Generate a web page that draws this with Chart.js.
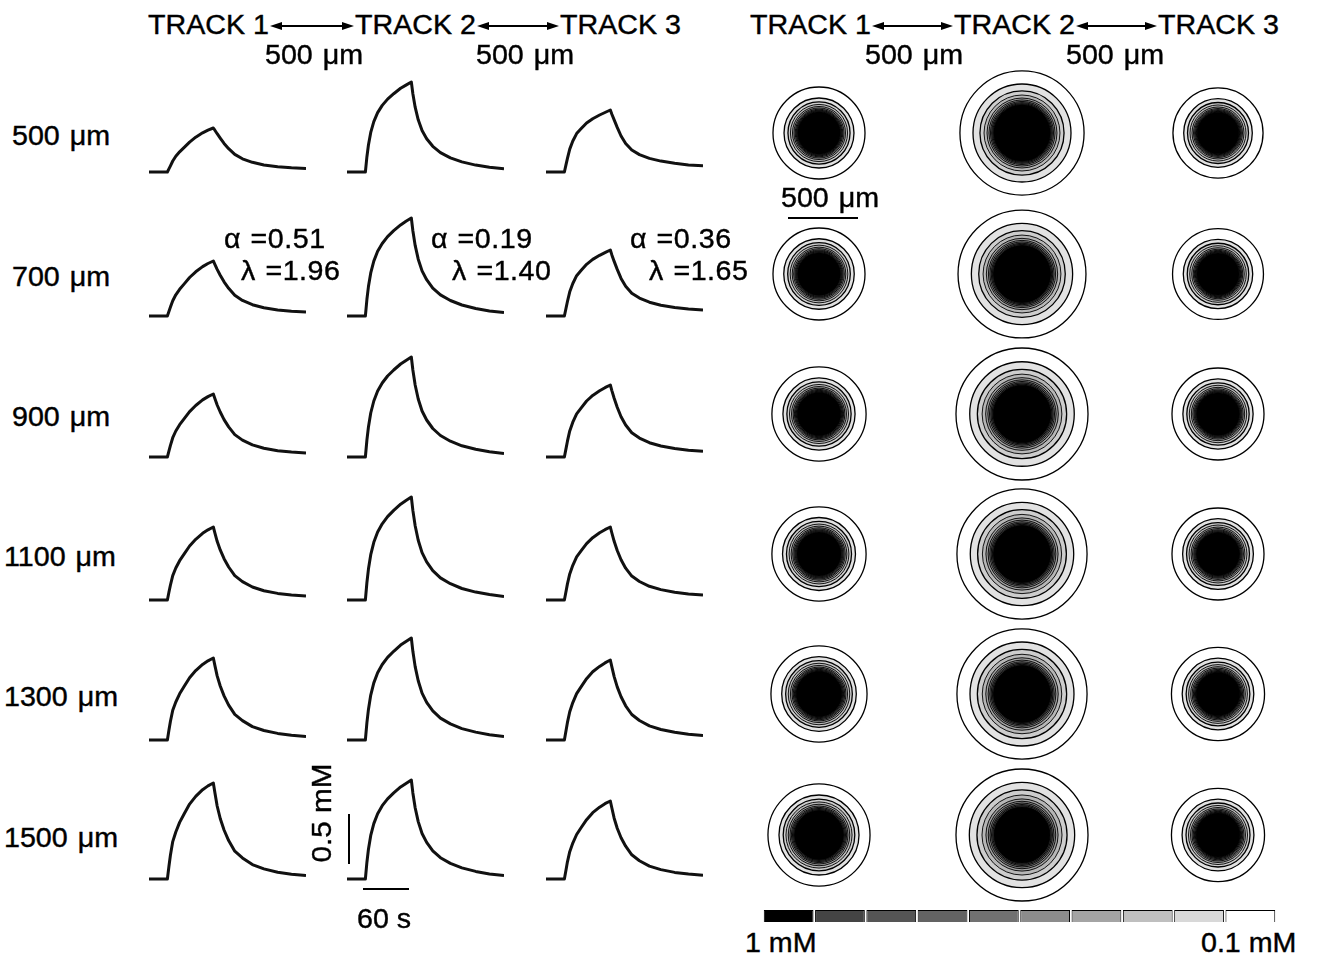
<!DOCTYPE html>
<html>
<head>
<meta charset="utf-8">
<script src="https://cdn.jsdelivr.net/npm/chart.js@4.4.1/dist/chart.umd.min.js"></script>
<style>
  html, body { margin: 0; padding: 0; background: #fff; }
  #fig { position: relative; width: 1317px; height: 958px; overflow: hidden;
         font-family: "Liberation Sans", Arial, sans-serif; color: #000; }
  .txt { position: absolute; font-size: 27px; line-height: 27px; white-space: nowrap;
         -webkit-text-stroke: 0.4px #000;
         transform-origin: 0 50%; transform: translateY(-50%) scaleX(1.06); }
  .um { word-spacing: 2px; }
  .fit { word-spacing: 1px; letter-spacing: 0.5px; }
  .rot { position: absolute; font-size: 27px; line-height: 27px; white-space: nowrap;
         -webkit-text-stroke: 0.4px #000;
         transform: translate(-50%, -50%) rotate(-90deg) scaleX(1.1); }
  .bar { position: absolute; background: #000; }
  canvas, svg { position: absolute; }
</style>
</head>
<body>
<div id="fig"></div>
<script>
// ---- data ----
const TIME = [0, 24, 26, 28, 31, 35, 40, 46, 53, 61, 70, 77, 84, 86, 89, 93, 98, 104, 112, 122, 135, 150, 168, 186, 205]; // s
const DEPTHS = ['500 μm', '700 μm', '900 μm', '1100 μm', '1300 μm', '1500 μm'];
const TRACKS = ['TRACK 1', 'TRACK 2', 'TRACK 3'];

// concentration traces (mM), one row per depth
const TRACK1_MM = [
  [0, 0, 0.031, 0.062, 0.11, 0.158, 0.202, 0.246, 0.299, 0.348, 0.392, 0.418, 0.44, 0.418, 0.383, 0.339, 0.286, 0.233, 0.176, 0.132, 0.097, 0.070, 0.053, 0.042, 0.035],
  [0, 0, 0.045, 0.089, 0.153, 0.212, 0.267, 0.321, 0.385, 0.442, 0.494, 0.525, 0.55, 0.517, 0.466, 0.408, 0.342, 0.277, 0.208, 0.156, 0.113, 0.082, 0.061, 0.047, 0.039],
  [0, 0, 0.059, 0.116, 0.193, 0.26, 0.323, 0.383, 0.454, 0.515, 0.571, 0.604, 0.63, 0.586, 0.52, 0.45, 0.374, 0.301, 0.224, 0.169, 0.121, 0.087, 0.063, 0.049, 0.039],
  [0, 0, 0.077, 0.15, 0.244, 0.32, 0.393, 0.461, 0.54, 0.607, 0.667, 0.702, 0.73, 0.672, 0.587, 0.501, 0.413, 0.33, 0.244, 0.184, 0.13, 0.093, 0.066, 0.05, 0.039],
  [0, 0, 0.097, 0.187, 0.297, 0.38, 0.462, 0.538, 0.623, 0.694, 0.756, 0.792, 0.82, 0.746, 0.641, 0.54, 0.441, 0.349, 0.256, 0.194, 0.134, 0.095, 0.066, 0.048, 0.036],
  [0, 0, 0.125, 0.24, 0.374, 0.47, 0.566, 0.653, 0.749, 0.826, 0.893, 0.931, 0.96, 0.864, 0.73, 0.605, 0.49, 0.384, 0.278, 0.211, 0.144, 0.101, 0.067, 0.048, 0.034]
];
const TRACK2_MM = [
  [0, 0, 0.153, 0.27, 0.396, 0.504, 0.594, 0.666, 0.729, 0.783, 0.837, 0.869, 0.90, 0.783, 0.648, 0.522, 0.414, 0.333, 0.257, 0.194, 0.142, 0.101, 0.069, 0.047, 0.032],
  [0, 0, 0.167, 0.294, 0.431, 0.549, 0.647, 0.725, 0.794, 0.853, 0.911, 0.947, 0.98, 0.853, 0.706, 0.568, 0.451, 0.363, 0.279, 0.211, 0.155, 0.11, 0.075, 0.051, 0.034],
  [0, 0, 0.17, 0.30, 0.44, 0.56, 0.66, 0.74, 0.81, 0.87, 0.93, 0.966, 1.0, 0.87, 0.72, 0.58, 0.46, 0.37, 0.285, 0.215, 0.158, 0.112, 0.077, 0.052, 0.035],
  [0, 0, 0.175, 0.309, 0.453, 0.577, 0.68, 0.762, 0.834, 0.896, 0.958, 0.995, 1.03, 0.896, 0.742, 0.597, 0.474, 0.381, 0.294, 0.221, 0.163, 0.115, 0.079, 0.054, 0.036],
  [0, 0, 0.173, 0.306, 0.449, 0.571, 0.673, 0.755, 0.826, 0.887, 0.949, 0.985, 1.02, 0.887, 0.734, 0.592, 0.469, 0.377, 0.291, 0.219, 0.161, 0.114, 0.079, 0.053, 0.036],
  [0, 0, 0.168, 0.297, 0.436, 0.554, 0.653, 0.733, 0.802, 0.861, 0.921, 0.956, 0.99, 0.861, 0.713, 0.574, 0.455, 0.366, 0.282, 0.213, 0.156, 0.111, 0.076, 0.051, 0.035]
];
const TRACK3_MM = [
  [0, 0, 0.068, 0.136, 0.229, 0.31, 0.384, 0.434, 0.49, 0.533, 0.57, 0.595, 0.62, 0.577, 0.521, 0.446, 0.36, 0.285, 0.22, 0.174, 0.136, 0.109, 0.087, 0.071, 0.062],
  [0, 0, 0.073, 0.145, 0.242, 0.325, 0.403, 0.457, 0.517, 0.566, 0.607, 0.634, 0.66, 0.611, 0.546, 0.466, 0.376, 0.298, 0.228, 0.179, 0.138, 0.108, 0.085, 0.069, 0.059],
  [0, 0, 0.079, 0.158, 0.261, 0.348, 0.432, 0.492, 0.56, 0.616, 0.662, 0.693, 0.72, 0.664, 0.588, 0.498, 0.403, 0.32, 0.243, 0.189, 0.143, 0.11, 0.085, 0.068, 0.057],
  [0, 0, 0.08, 0.161, 0.261, 0.347, 0.431, 0.493, 0.564, 0.623, 0.672, 0.703, 0.73, 0.67, 0.587, 0.495, 0.402, 0.318, 0.239, 0.185, 0.137, 0.104, 0.078, 0.061, 0.05],
  [0, 0, 0.088, 0.176, 0.283, 0.374, 0.464, 0.534, 0.613, 0.682, 0.736, 0.771, 0.80, 0.731, 0.634, 0.531, 0.432, 0.342, 0.255, 0.195, 0.141, 0.105, 0.077, 0.058, 0.046],
  [0, 0, 0.086, 0.172, 0.273, 0.359, 0.445, 0.515, 0.593, 0.663, 0.718, 0.753, 0.78, 0.71, 0.608, 0.507, 0.413, 0.328, 0.242, 0.183, 0.129, 0.094, 0.066, 0.049, 0.037]
];

// fitted parameters shown for the 700 um row
const ALPHA = ['0.51', '0.19', '0.36'];
const LAMBDA = ['1.96', '1.40', '1.65'];

// contour levels (mM) and radius of each contour (um), outer (0.1) to inner (1.0)
const LEVELS = [0.1, 0.2, 0.3, 0.4, 0.5, 0.6, 0.7, 0.8, 0.9, 1.0];
const BAND_COLORS = ['#ffffff', '#e2e2e2', '#cdcdcd', '#b6b6b6', '#a0a0a0', '#8a8a8a', '#727272', '#5a5a5a', '#424242', '#000000'];
const RING1 = [
  [338, 257, 228, 210, 195, 184, 175, 168, 162, 156],
  [338, 259, 230, 212, 197, 186, 177, 170, 164, 157],
  [346, 265, 236, 217, 202, 190, 181, 174, 167, 160],
  [346, 268, 239, 220, 205, 193, 184, 176, 169, 162],
  [353, 274, 245, 226, 210, 198, 189, 181, 174, 167],
  [375, 294, 263, 243, 226, 213, 203, 195, 187, 180]
];
const RING2 = [
  [456, 360, 309, 279, 257, 243, 232, 223, 215, 208],
  [470, 372, 318, 286, 262, 247, 236, 226, 218, 210],
  [485, 384, 328, 293, 267, 251, 239, 229, 220, 212],
  [478, 380, 326, 291, 265, 249, 237, 227, 218, 210],
  [478, 382, 328, 292, 266, 249, 237, 227, 218, 210],
  [485, 387, 331, 294, 265, 248, 235, 224, 215, 206]
];
const RING3 = [
  [331, 252, 224, 206, 191, 180, 172, 165, 159, 153],
  [334, 255, 226, 208, 193, 182, 174, 167, 161, 155],
  [338, 258, 229, 211, 196, 185, 176, 169, 163, 157],
  [338, 260, 231, 213, 198, 187, 178, 171, 164, 158],
  [342, 263, 234, 216, 201, 190, 181, 173, 166, 160],
  [342, 264, 235, 217, 202, 191, 182, 174, 167, 161]
];

// colour bar, 1 mM (left) to 0.1 mM (right)
const CB_LABELS = ['1.0', '0.9', '0.8', '0.7', '0.6', '0.5', '0.4', '0.3', '0.2', '0.1'];
const CB_VALUES = [1, 1, 1, 1, 1, 1, 1, 1, 1, 1];
const CB_COLORS = ['#000000', '#444444', '#555555', '#636363', '#717171', '#8c8c8c', '#a4a4a4', '#bfbfbf', '#d8d8d8', '#ffffff'];

// ---- layout ----
const fig = document.getElementById('fig');
const ROW_BASE = [172, 316, 457, 600, 740, 879];   // trace baselines
const ROW_MID = [136, 277, 417, 557, 697, 838];    // row centres
const TRACE_X = [149, 347, 546];
const RING_X = [819, 1022, 1218];

function addText(str, x, cy, cls) {
  const d = document.createElement('div');
  d.className = cls || 'txt';
  d.textContent = str;
  d.style.left = x + 'px';
  d.style.top = cy + 'px';
  fig.appendChild(d);
  return d;
}

function addBar(x, y, w, h) {
  const d = document.createElement('div');
  d.className = 'bar';
  Object.assign(d.style, { left: x + 'px', top: y + 'px', width: w + 'px', height: h + 'px' });
  fig.appendChild(d);
}

function addArrow(x1, x2, y) {
  const w = x2 - x1;
  const ns = 'http://www.w3.org/2000/svg';
  const s = document.createElementNS(ns, 'svg');
  s.setAttribute('width', w); s.setAttribute('height', 12);
  s.style.left = x1 + 'px'; s.style.top = (y - 6) + 'px';
  s.innerHTML = `<line x1="8" y1="6" x2="${w - 8}" y2="6" stroke="#000" stroke-width="1.8"/>
    <polygon points="0,6 12,2 12,10" fill="#000"/>
    <polygon points="${w},6 ${w - 12},2 ${w - 12},10" fill="#000"/>`;
  fig.appendChild(s);
}

function makeCanvas(x, y, w, h) {
  const c = document.createElement('canvas');
  c.width = w; c.height = h;
  c.style.left = x + 'px'; c.style.top = y + 'px';
  fig.appendChild(c);
  return c;
}

const baseOpts = {
  responsive: false,
  animation: false,
  events: [],
  layout: { padding: 0 },
  plugins: { legend: { display: false }, tooltip: { enabled: false } }
};

// one small line chart per trace
function traceChart(values, left, base) {
  const c = makeCanvas(left, base - 110, 157, 116);
  new Chart(c, {
    type: 'line',
    data: {
      datasets: [{
        data: TIME.map((t, i) => ({ x: t, y: values[i] })),
        borderColor: '#111',
        borderWidth: 3,
        borderJoinStyle: 'round',
        pointRadius: 0,
        tension: 0,
        fill: false
      }]
    },
    options: {
      ...baseOpts,
      scales: {
        x: { type: 'linear', display: false, min: 0, max: 205 },
        y: { display: false, min: -0.06, max: 1.1 }
      }
    }
  });
}

// concentric contour discs, radii taken through the x scale
const ringPlugin = {
  id: 'rings',
  beforeDatasetsDraw(chart) {
    const ctx = chart.ctx;
    const x0 = chart.scales.x.getPixelForValue(0);
    const y0 = chart.scales.y.getPixelForValue(0);
    const pts = chart.getDatasetMeta(0).data;
    ctx.save();
    pts.forEach((p, i) => {
      ctx.beginPath();
      ctx.arc(x0, y0, p.x - x0, 0, Math.PI * 2);
      ctx.fillStyle = BAND_COLORS[i];
      ctx.fill();
      ctx.lineWidth = i < 3 ? 1.3 : 0.9;
      ctx.strokeStyle = '#000';
      ctx.stroke();
    });
    ctx.restore();
  }
};

function ringChart(radii, cx, cy) {
  const c = makeCanvas(cx - 75, cy - 75, 150, 150);
  new Chart(c, {
    type: 'scatter',
    data: { datasets: [{ data: radii.map((r, i) => ({ x: r, y: 0, level: LEVELS[i] })), pointRadius: 0 }] },
    options: {
      ...baseOpts,
      scales: {
        x: { type: 'linear', display: false, min: -551, max: 551 },
        y: { type: 'linear', display: false, min: -551, max: 551 }
      }
    },
    plugins: [ringPlugin]
  });
}

const TRACE_DATA = [TRACK1_MM, TRACK2_MM, TRACK3_MM];
const RING_DATA = [RING1, RING2, RING3];

DEPTHS.forEach((label, r) => {
  addText(label, label.length > 6 ? 4 : 12, ROW_MID[r], 'txt um');
  for (let k = 0; k < 3; k++) {
    traceChart(TRACE_DATA[k][r], TRACE_X[k], ROW_BASE[r]);
    ringChart(RING_DATA[k][r], RING_X[k], ROW_MID[r] - 3);
  }
});

// headers
[[148, 270, 354, 355, 477, 559, 560, 265, 476], [750, 872, 953, 954, 1076, 1157, 1158, 865, 1066]].forEach(h => {
  addText(TRACKS[0], h[0], 25);
  addArrow(h[1], h[2], 26);
  addText(TRACKS[1], h[3], 25);
  addArrow(h[4], h[5], 26);
  addText(TRACKS[2], h[6], 25);
  addText('500 μm', h[7], 55, 'txt um');
  addText('500 μm', h[8], 55, 'txt um');
});

// fit parameters
const FIT_X = [[224, 241], [431, 452], [630, 649]];
FIT_X.forEach((fx, k) => {
  addText('α =' + ALPHA[k], fx[0], 239, 'txt fit');
  addText('λ =' + LAMBDA[k], fx[1], 271, 'txt fit');
});

// scale bars
addText('500 μm', 781, 198, 'txt um');
addBar(788, 217, 70, 2);
addBar(348, 814, 2, 50);
addText('0.5 mM', 322, 813, 'rot');
addBar(363, 888, 46, 2);
addText('60 s', 357, 919);

// colour bar
const cb = makeCanvas(763, 910, 513, 12);
new Chart(cb, {
  type: 'bar',
  data: {
    labels: CB_LABELS,
    datasets: [{ data: CB_VALUES, backgroundColor: CB_COLORS, borderColor: '#000', borderWidth: 1,
                 barPercentage: 0.97, categoryPercentage: 1 }]
  },
  options: {
    ...baseOpts,
    scales: { x: { display: false }, y: { display: false, min: 0, max: 1 } }
  }
});
addText('1 mM', 745, 943);
addText('0.1 mM', 1201, 943);
</script>
</body>
</html>
